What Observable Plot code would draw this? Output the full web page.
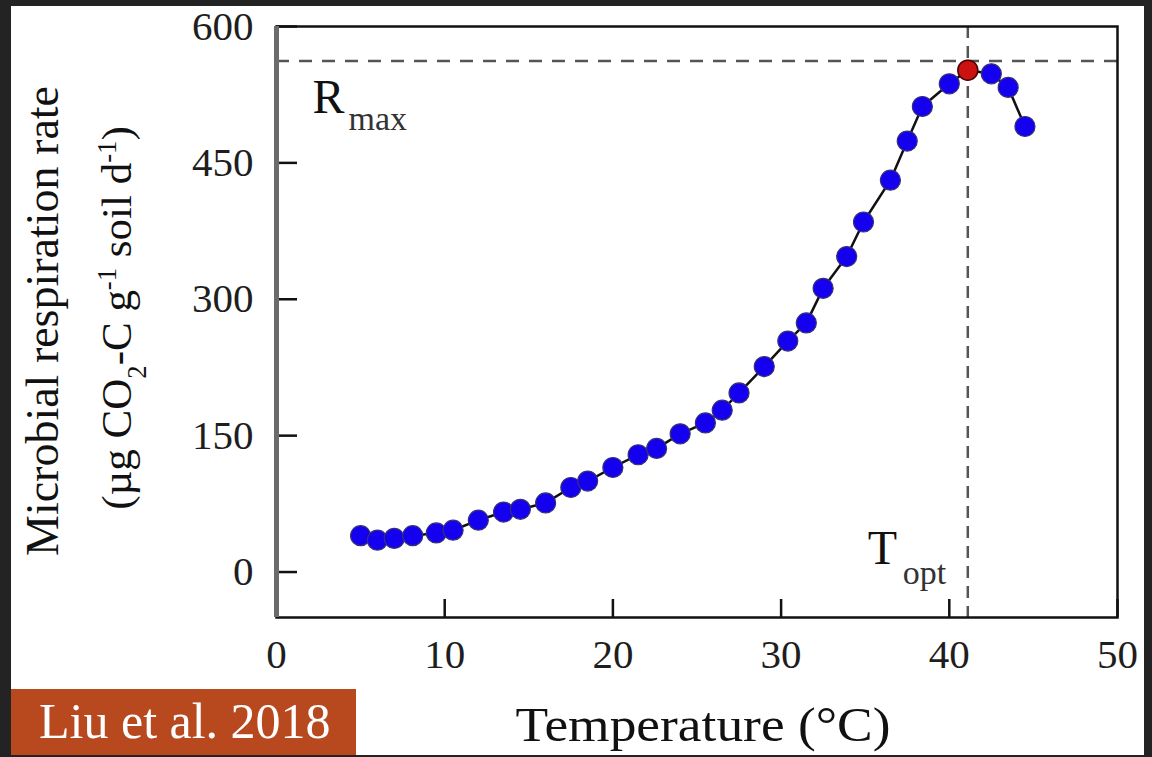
<!DOCTYPE html>
<html>
<head>
<meta charset="utf-8">
<script src="https://cdn.jsdelivr.net/npm/d3@7"></script>
<script src="https://cdn.jsdelivr.net/npm/@observablehq/plot@0.6"></script>
<style>
  html, body { margin: 0; padding: 0; background: #232323; }
  #wrap { position: relative; width: 1152px; height: 757px; overflow: hidden; }
  #panel { position: absolute; left: 11px; top: 6px; width: 1133px; height: 749px; background: #fff; }
  #chart { position: absolute; left: 0; top: 0; }
  #cap { position: absolute; left: 11px; top: 689px; width: 345px; height: 66px; background: #b8491f;
         color: #fff; font-family: "Liberation Serif", "Times New Roman", serif; font-size: 50px;
         line-height: 64px; padding-left: 28px; box-sizing: border-box; white-space: nowrap; }
</style>
</head>
<body>
<div id="wrap">
  <div id="panel"></div>
  <div id="chart"></div>
  <div id="cap">Liu et al. 2018</div>
</div>
<script>
// Data
const temperature = [5, 6, 7, 8.1, 9.5, 10.5, 12, 13.5, 14.5, 16, 17.5, 18.5, 20, 21.5, 22.6, 24, 25.5, 26.5, 27.5, 29, 30.4, 31.5, 32.5, 33.9, 34.9, 36.5, 37.5, 38.4, 40, 42.5, 43.5, 44.5];
const respiration = [40, 35, 37, 40, 43, 46, 57, 66, 69, 76, 93, 100, 115, 129, 136, 152, 164, 178, 197, 226, 254, 274, 312, 347, 385, 431, 474, 512, 537, 548, 533, 490];
const tOpt = 41.1;          // optimum temperature (red point / vertical dashed line)
const rAtOpt = 552;         // respiration at optimum (red point)
const rMax = 562;           // horizontal dashed line
const xTicks = [0, 10, 20, 30, 40, 50];
const yTicks = [0, 150, 300, 450, 600];
const xTitle = "Temperature (°C)";
const yTitle1 = "Microbial respiration rate";
const yTitle2 = "(µg CO₂-C g⁻¹ soil d⁻¹)";

// build table (insert the optimum point in order for the connecting line)
const series = temperature.map((t, i) => ({t, r: respiration[i]}));
const lineData = series.concat([{t: tOpt, r: rAtOpt}]).sort((a, b) => a.t - b.t);
const peak = [{t: tOpt, r: rAtOpt}];

const serif = "'Liberation Serif', 'Times New Roman', serif";
const W = 1152, H = 757, mL = 276, mR = 35, mT = 26, mB = 140;
const frameW = W - mL - mR, frameH = H - mT - mB;

const svg = Plot.plot({
  width: W, height: H,
  marginLeft: mL, marginRight: mR, marginTop: mT, marginBottom: mB,
  x: {domain: [0, 50]},
  y: {domain: [-50, 600]},
  style: {background: "transparent", fontFamily: serif, color: "#1e1e1e", overflow: "visible"},
  marks: [
    Plot.ruleY([rMax], {y: d => d, stroke: "#555", strokeWidth: 2.5, strokeDasharray: "13,10"}),
    Plot.ruleX([tOpt], {x: d => d, stroke: "#555", strokeWidth: 2.5, strokeDasharray: "12,8"}),
    Plot.tickX(xTicks, {x: d => d, insetTop: frameH - 18, stroke: "#111", strokeWidth: 2.5}),
    Plot.tickY(yTicks, {y: d => d, insetRight: frameW - 21, stroke: "#111", strokeWidth: 2.5}),
    Plot.axisX({ticks: xTicks, tickSize: 0, tickPadding: 21, fontSize: 41, label: null}),
    Plot.axisY({ticks: yTicks, tickSize: 0, tickPadding: 23, fontSize: 41, label: null}),
    Plot.line(lineData, {x: "t", y: "r", stroke: "#111", strokeWidth: 2.5}),
    Plot.dot(series, {x: "t", y: "r", r: 10, fill: "#1400ee", stroke: "#35307a", strokeWidth: 1.2}),
    Plot.dot(peak, {x: "t", y: "r", r: 10, fill: "#cc1111", stroke: "#4a0000", strokeWidth: 1.5}),
    Plot.frame({stroke: "#111", strokeWidth: 2.5}),
    Plot.ruleX([0], {x: d => d, stroke: "#6b6b6b", strokeWidth: 5}),
    // annotations
    Plot.text(["R"], {text: d => d, frameAnchor: "top-left", dx: 36, dy: 86, lineAnchor: "bottom", textAnchor: "start", fontSize: 48, fill: "#111"}),
    Plot.text(["max"], {text: d => d, frameAnchor: "top-left", dx: 72, dy: 103, lineAnchor: "bottom", textAnchor: "start", fontSize: 34, fill: "#333"}),
    Plot.text(["T"], {text: d => d, x: () => tOpt, frameAnchor: "bottom", dx: -100, dy: -54, lineAnchor: "bottom", textAnchor: "start", fontSize: 48, fill: "#111"}),
    Plot.text(["opt"], {text: d => d, x: () => tOpt, frameAnchor: "bottom", dx: -65, dy: -34, lineAnchor: "bottom", textAnchor: "start", fontSize: 34, fill: "#333"}),
    // axis titles
    Plot.text([xTitle], {text: d => d, frameAnchor: "bottom", dx: 6, dy: 123, lineAnchor: "bottom", textAnchor: "middle", fontSize: 49, fill: "#111"}),
    Plot.text([yTitle1], {text: d => d, frameAnchor: "left", dx: 57 - mL, dy: -1, rotate: -90, lineAnchor: "bottom", textAnchor: "middle", fontSize: 46, fill: "#111"}),
    Plot.text([yTitle2], {text: d => d, frameAnchor: "left", dx: 130 - mL, dy: -4, rotate: -90, lineAnchor: "bottom", textAnchor: "middle", fontSize: 43, fill: "#111"})
  ]
});

const root = d3.select(svg);
// turn unicode sub/superscripts into proper tspans
root.selectAll("text").filter(function() { return this.textContent === yTitle2; }).each(function() {
  const el = d3.select(this);
  el.text("");
  for (const p of yTitle2.split(/(₂|⁻¹)/)) {
    if (!p) continue;
    if (p === "₂") el.append("tspan").attr("baseline-shift", "sub").attr("font-size", "62%").text("2");
    else if (p === "⁻¹") el.append("tspan").attr("baseline-shift", "super").attr("font-size", "62%").text("-1");
    else el.append("tspan").text(p);
  }
});
// the original artwork is slightly stretched horizontally
root.selectAll("text").filter(function() { return this.textContent === xTitle; })
  .attr("textLength", 375).attr("lengthAdjust", "spacingAndGlyphs");

document.getElementById("chart").append(svg);
</script>
</body>
</html>
